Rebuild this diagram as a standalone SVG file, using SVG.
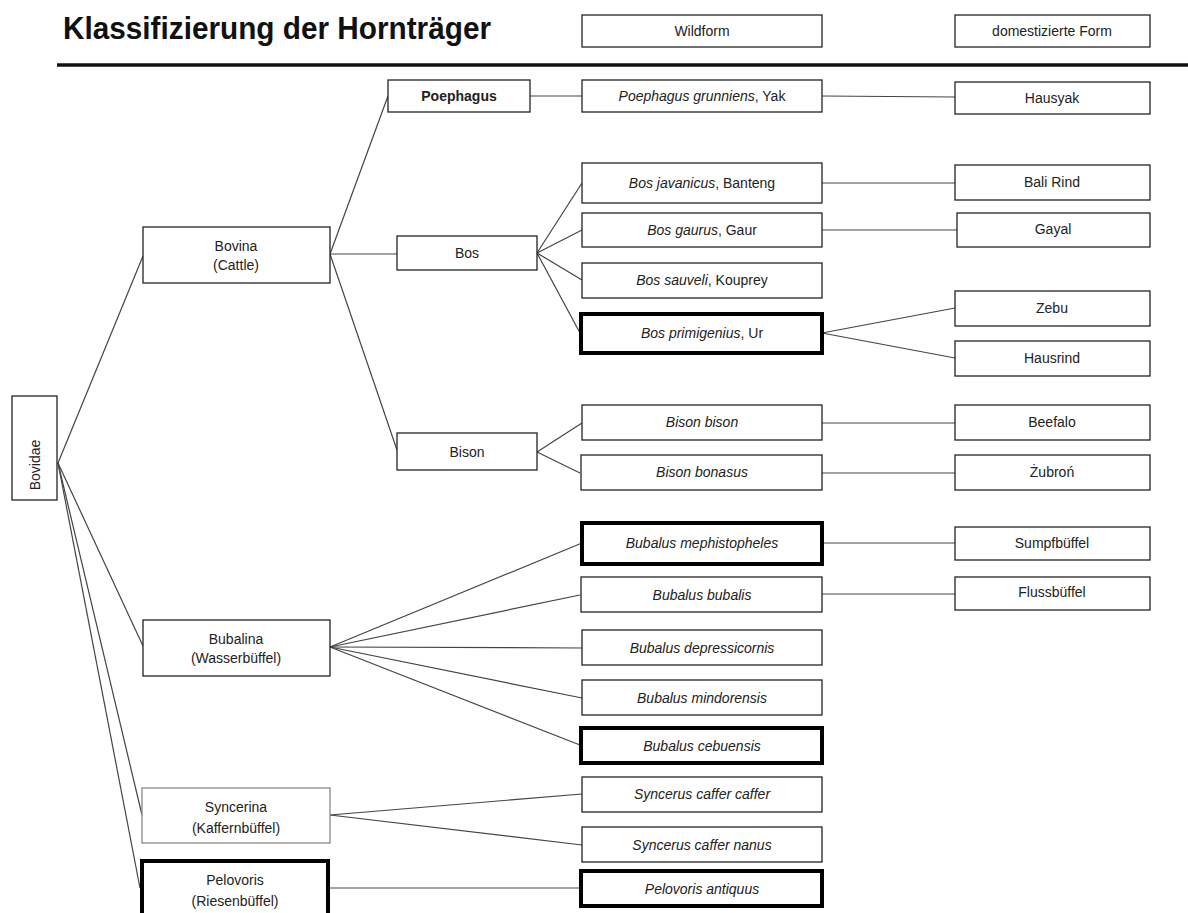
<svg xmlns="http://www.w3.org/2000/svg" width="1188" height="913" viewBox="0 0 1188 913">
<style>
.b{fill:#fff;stroke:#222;stroke-width:1.3}
.t{fill:#fff;stroke:#000;stroke-width:4}
.l{fill:#fff;stroke:#888;stroke-width:1.3}
text{font-family:"Liberation Sans",Arial,sans-serif;font-size:14px;fill:#222;text-anchor:middle}
.i{font-style:italic}
#conn line{stroke:#444;stroke-width:1.2}
</style>
<rect width="1188" height="913" fill="#fff"/>
<text x="63" y="39" style="font-size:31px;font-weight:bold;text-anchor:start;fill:#111" textLength="428" lengthAdjust="spacingAndGlyphs">Klassifizierung der Hornträger</text>
<line x1="57" y1="65" x2="1188" y2="65" stroke="#111" stroke-width="3.5"/>
<g id="conn">
<line x1="58" y1="463" x2="143" y2="256"/>
<line x1="58" y1="463" x2="143" y2="646"/>
<line x1="58" y1="463" x2="142" y2="815"/>
<line x1="58" y1="463" x2="140" y2="888"/>
<line x1="330" y1="254" x2="388" y2="96"/>
<line x1="330" y1="254" x2="397" y2="254"/>
<line x1="330" y1="254" x2="397" y2="450"/>
<line x1="530" y1="96" x2="582" y2="96"/>
<line x1="822" y1="96" x2="955" y2="97"/>
<line x1="537" y1="253" x2="582" y2="183"/>
<line x1="537" y1="253" x2="582" y2="230"/>
<line x1="537" y1="253" x2="582" y2="280"/>
<line x1="537" y1="253" x2="580" y2="333"/>
<line x1="822" y1="183" x2="955" y2="183"/>
<line x1="822" y1="230" x2="957" y2="230"/>
<line x1="822" y1="333" x2="955" y2="308"/>
<line x1="822" y1="333" x2="955" y2="358"/>
<line x1="537" y1="452" x2="582" y2="423"/>
<line x1="537" y1="452" x2="580" y2="473"/>
<line x1="822" y1="423" x2="955" y2="423"/>
<line x1="822" y1="473" x2="955" y2="473"/>
<line x1="330" y1="647" x2="582" y2="543"/>
<line x1="330" y1="647" x2="580" y2="595"/>
<line x1="330" y1="647" x2="582" y2="648"/>
<line x1="330" y1="647" x2="582" y2="698"/>
<line x1="330" y1="647" x2="580" y2="745"/>
<line x1="822" y1="543" x2="955" y2="543"/>
<line x1="822" y1="594" x2="955" y2="594"/>
<line x1="330" y1="815" x2="582" y2="794"/>
<line x1="330" y1="815" x2="582" y2="845"/>
<line x1="328" y1="888" x2="580" y2="888"/>
</g>
<g id="hdr-wild"><rect class="b" x="582" y="15" width="240" height="32"/><text x="702" y="36">Wildform</text></g>
<g id="hdr-dom"><rect class="b" x="955" y="15" width="195" height="32"/><text x="1052" y="36">domestizierte Form</text></g>
<g id="bovidae"><rect class="b" x="12" y="396" width="45" height="104"/><text transform="translate(40,465) rotate(-90)">Bovidae</text></g>
<g id="bovina"><rect class="b" x="143" y="227" width="187" height="56"/><text x="236" y="251">Bovina</text><text x="236" y="270">(Cattle)</text></g>
<g id="bubalina"><rect class="b" x="143" y="620" width="187" height="56"/><text x="236" y="644">Bubalina</text><text x="236" y="663">(Wasserbüffel)</text></g>
<g id="syncerina"><rect class="l" x="142" y="788" width="188" height="55"/><text x="236" y="812">Syncerina</text><text x="236" y="833">(Kaffernbüffel)</text></g>
<g id="pelovoris"><rect class="t" x="142" y="861" width="186" height="56"/><text x="235" y="885">Pelovoris</text><text x="235" y="906">(Riesenbüffel)</text></g>
<g id="poephagus"><rect class="b" x="388" y="80" width="142" height="32"/><text x="459" y="101" style="font-weight:bold">Poephagus</text></g>
<g id="bos"><rect class="b" x="397" y="236" width="140" height="34"/><text x="467" y="258">Bos</text></g>
<g id="bison"><rect class="b" x="397" y="433" width="140" height="37"/><text x="467" y="457">Bison</text></g>
<g id="yak"><rect class="b" x="582" y="80" width="240" height="32"/><text x="702" y="101"><tspan class="i">Poephagus grunniens</tspan>, Yak</text></g>
<g id="banteng"><rect class="b" x="582" y="163" width="240" height="40"/><text x="702" y="188"><tspan class="i">Bos javanicus</tspan>, Banteng</text></g>
<g id="gaur"><rect class="b" x="582" y="213" width="240" height="34"/><text x="702" y="235"><tspan class="i">Bos gaurus</tspan>, Gaur</text></g>
<g id="kouprey"><rect class="b" x="582" y="263" width="240" height="35"/><text x="702" y="285"><tspan class="i">Bos sauveli</tspan>, Kouprey</text></g>
<g id="ur"><rect class="t" x="581" y="314" width="241" height="39"/><text x="702" y="338"><tspan class="i">Bos primigenius</tspan>, Ur</text></g>
<g id="bisonbison"><rect class="b" x="582" y="405" width="240" height="35"/><text class="i" x="702" y="427">Bison bison</text></g>
<g id="bonasus"><rect class="b" x="581" y="455" width="241" height="35"/><text class="i" x="702" y="477">Bison bonasus</text></g>
<g id="meph"><rect class="t" x="582" y="523" width="240" height="41"/><text class="i" x="702" y="548">Bubalus mephistopheles</text></g>
<g id="bubalis"><rect class="b" x="581" y="577" width="241" height="35"/><text class="i" x="702" y="600">Bubalus bubalis</text></g>
<g id="depress"><rect class="b" x="582" y="630" width="240" height="35"/><text class="i" x="702" y="653">Bubalus depressicornis</text></g>
<g id="mindor"><rect class="b" x="582" y="680" width="240" height="35"/><text class="i" x="702" y="703">Bubalus mindorensis</text></g>
<g id="cebu"><rect class="t" x="581" y="728" width="241" height="35"/><text class="i" x="702" y="751">Bubalus cebuensis</text></g>
<g id="caffer"><rect class="b" x="582" y="777" width="240" height="35"/><text class="i" x="702" y="799">Syncerus caffer caffer</text></g>
<g id="nanus"><rect class="b" x="582" y="827" width="240" height="35"/><text class="i" x="702" y="850">Syncerus caffer nanus</text></g>
<g id="antiquus"><rect class="t" x="581" y="871" width="241" height="35"/><text class="i" x="702" y="894">Pelovoris antiquus</text></g>
<g id="hausyak"><rect class="b" x="955" y="82" width="195" height="32"/><text x="1052" y="103">Hausyak</text></g>
<g id="balirind"><rect class="b" x="955" y="165" width="195" height="35"/><text x="1052" y="187">Bali Rind</text></g>
<g id="gayal"><rect class="b" x="957" y="213" width="193" height="34"/><text x="1053" y="234">Gayal</text></g>
<g id="zebu"><rect class="b" x="955" y="291" width="195" height="35"/><text x="1052" y="313">Zebu</text></g>
<g id="hausrind"><rect class="b" x="955" y="341" width="195" height="35"/><text x="1052" y="363">Hausrind</text></g>
<g id="beefalo"><rect class="b" x="955" y="405" width="195" height="35"/><text x="1052" y="427">Beefalo</text></g>
<g id="zubron"><rect class="b" x="955" y="455" width="195" height="35"/><text x="1052" y="477">Żubroń</text></g>
<g id="sumpf"><rect class="b" x="955" y="527" width="195" height="33"/><text x="1052" y="548">Sumpfbüffel</text></g>
<g id="fluss"><rect class="b" x="955" y="577" width="195" height="33"/><text x="1052" y="597">Flussbüffel</text></g>
</svg>
